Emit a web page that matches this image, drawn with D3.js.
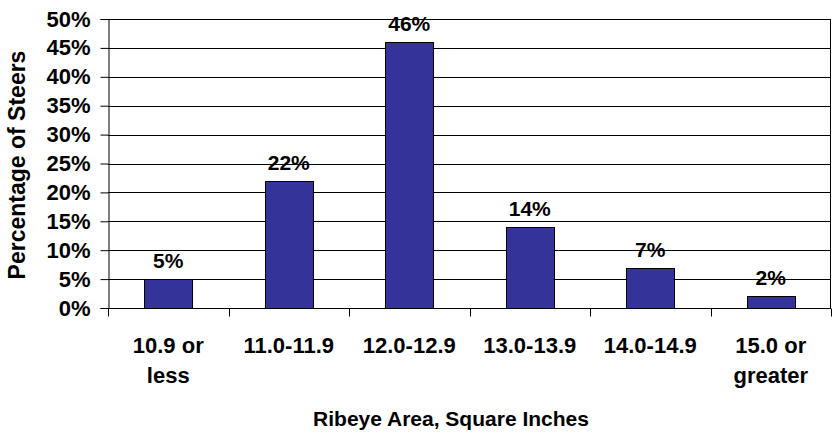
<!DOCTYPE html>
<html>
<head>
<meta charset="utf-8">
<script src="https://cdn.jsdelivr.net/npm/d3@7"></script>
<style>
  body { margin: 0; background: #fff; }
  text { font-family: "Liberation Sans", Arial, sans-serif; font-weight: bold; fill: #000; }
</style>
</head>
<body>
<svg class="chart"></svg>
<script>
// chart values
var categories = [["10.9 or", "less"], ["11.0-11.9"], ["12.0-12.9"], ["13.0-13.9"], ["14.0-14.9"], ["15.0 or", "greater"]];
var percents = [5, 22, 46, 14, 7, 2];
var yTicks = [0, 5, 10, 15, 20, 25, 30, 35, 40, 45, 50];
var xTitle = "Ribeye Area, Square Inches";
var yTitle = "Percentage of Steers";

var gwidth = 833;
var gheight = 434;
var margin = {top: 19, right: 2, bottom: 126, left: 108},
    width = gwidth - margin.left - margin.right,
    height = gheight - margin.top - margin.bottom;

var svg = d3.select(".chart")
  .attr("width", gwidth)
  .attr("height", gheight);
var chart = svg.append("g")
  .attr("transform", "translate(" + margin.left + "," + margin.top + ")");

var x = d3.scaleBand()
    .domain(d3.range(categories.length))
    .range([0, width])
    .paddingInner(0.6)
    .paddingOuter(0.3);
var y = d3.scaleLinear()
    .domain([0, 50])
    .range([height, 0]);

// horizontal gridlines
chart.append("g")
  .selectAll("line")
  .data(yTicks)
  .enter()
  .append("line")
  .attr("x1", 0)
  .attr("x2", width)
  .attr("y1", function(d) { return Math.round(y(d)) + 0.5; })
  .attr("y2", function(d) { return Math.round(y(d)) + 0.5; })
  .attr("stroke", "#000")
  .attr("stroke-width", 1);

// right border of plot area
chart.append("line")
  .attr("x1", width - 0.5).attr("x2", width - 0.5)
  .attr("y1", 0).attr("y2", height)
  .attr("stroke", "#000");

// bars
chart.append("g")
  .selectAll("rect")
  .data(percents)
  .enter()
  .append("rect")
  .attr("x", function(d, i) { return Math.round(x(i)) + 0.5; })
  .attr("y", function(d) { return Math.round(y(d)) + 0.5; })
  .attr("width", Math.round(x.bandwidth()))
  .attr("height", function(d) { return Math.round(height) - Math.round(y(d)); })
  .attr("fill", "#333399")
  .attr("stroke", "#000")
  .attr("stroke-width", 1);

// value labels
chart.append("g")
  .selectAll("text")
  .data(percents)
  .enter()
  .append("text")
  .attr("x", function(d, i) { return x(i) + x.bandwidth() / 2; })
  .attr("y", function(d) { return y(d) - 11; })
  .attr("text-anchor", "middle")
  .style("font-size", "21px")
  .text(function(d) { return d + "%"; });

// y axis
var yAxis = d3.axisLeft(y)
    .tickValues(yTicks)
    .tickSize(8)
    .tickPadding(10)
    .tickFormat(function(d) { return d + "%"; });
var yaxis = chart.append("g")
    .attr("transform", "translate(0.5,0)")
    .call(yAxis);
yaxis.select(".domain").attr("stroke", "#000");
yaxis.selectAll(".tick line").attr("stroke", "#000");
yaxis.selectAll("text")
    .attr("font-family", null)
    .style("font-size", "22px");

// x axis: ticks sit on the category boundaries
var xb = d3.scaleLinear().domain([0, categories.length]).range([0, width]);
var xaxis = chart.append("g")
    .attr("transform", "translate(0," + (Math.round(height) + 0.5) + ")");
xaxis.append("line")
  .attr("x1", 0).attr("x2", width)
  .attr("stroke", "#000");
xaxis.selectAll(".btick")
  .data(d3.range(categories.length + 1))
  .enter()
  .append("line")
  .attr("class", "btick")
  .attr("x1", function(d) { return Math.round(xb(d)) + 0.5; })
  .attr("x2", function(d) { return Math.round(xb(d)) + 0.5; })
  .attr("y1", 0)
  .attr("y2", 8)
  .attr("stroke", "#000");

var catLabels = xaxis.selectAll(".cat")
  .data(categories)
  .enter()
  .append("text")
  .attr("class", "cat")
  .attr("text-anchor", "middle")
  .attr("transform", function(d, i) { return "translate(" + (x(i) + x.bandwidth() / 2) + ",44)"; })
  .style("font-size", "22px");
catLabels.selectAll("tspan")
  .data(function(d) { return d; })
  .enter()
  .append("tspan")
  .attr("x", 0)
  .attr("y", function(d, j) { return j * 30; })
  .text(function(d) { return d; });

// axis titles
svg.append("text")
  .attr("x", 451)
  .attr("y", 426)
  .attr("text-anchor", "middle")
  .style("font-size", "21px")
  .text(xTitle);

svg.append("text")
  .attr("transform", "translate(25,165) rotate(-90)")
  .attr("text-anchor", "middle")
  .style("font-size", "23px")
  .text(yTitle);
</script>
</body>
</html>
